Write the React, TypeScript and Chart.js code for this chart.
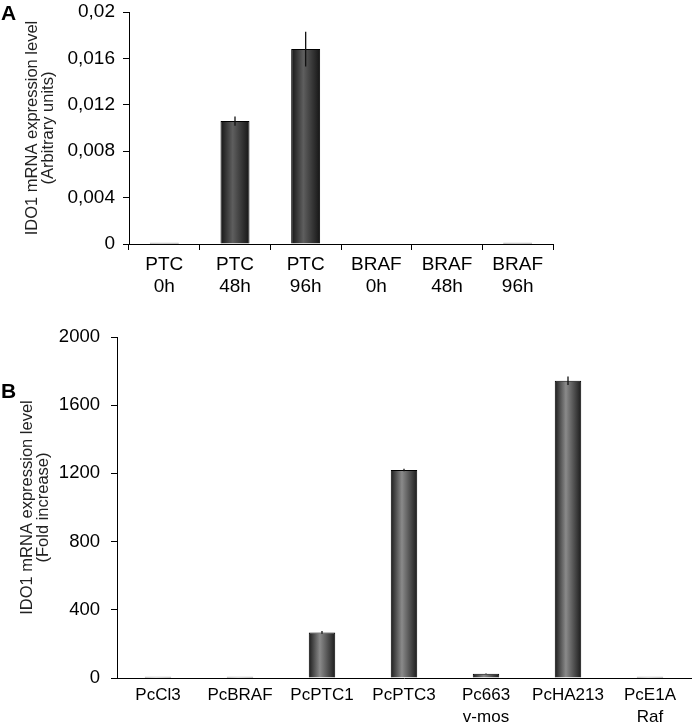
import React, { useEffect, useRef } from 'react';
import { Chart, registerables } from 'chart.js';
Chart.register(...registerables);

const FONT = '"Liberation Sans", Arial, Helvetica, sans-serif';

// Panel A
const aCategories = [['PTC', '0h'], ['PTC', '48h'], ['PTC', '96h'], ['BRAF', '0h'], ['BRAF', '48h'], ['BRAF', '96h']];
const aValues = [0.0001, 0.0106, 0.0168, 0, 0, 0.0001];
const aErrors = [0, 0.0004, 0.0015, 0, 0, 0];
const aYTicks = [0, 0.004, 0.008, 0.012, 0.016, 0.02];
const aYTickLabels = ['0', '0,004', '0,008', '0,012', '0,016', '0,02'];
const aTitle = ['IDO1 mRNA expression level', '(Arbitrary units)'];

// Panel B
const bCategories = ['PcCl3', 'PcBRAF', 'PcPTC1', 'PcPTC3', ['Pc663', 'v-mos'], 'PcHA213', ['PcE1A', 'Raf']];
const bValues = [8, 8, 267, 1220, 25, 1743, 8];
const bErrors = [0, 0, 8, 8, 2, 25, 0];
const bYTicks = [0, 400, 800, 1200, 1600, 2000];
const bYTickLabels = ['0', '400', '800', '1200', '1600', '2000'];
const bTitle = ['IDO1 mRNA expression level', '(Fold increase)'];

const errorBarPlugin = {
  id: 'errorBars',
  afterDatasetsDraw(chart: any, _args: any, opts: any) {
    const errs: number[] = opts.errors || [];
    const meta = chart.getDatasetMeta(0);
    const ys = chart.scales.y;
    const vals = chart.data.datasets[0].data as number[];
    const ctx = chart.ctx;
    ctx.save();
    ctx.strokeStyle = opts.color || '#000';
    ctx.lineWidth = opts.width || 1.2;
    meta.data.forEach((el: any, i: number) => {
      const e = errs[i];
      if (!e) return;
      const top = ys.getPixelForValue(vals[i] + e);
      const bot = ys.getPixelForValue(vals[i] - e);
      ctx.beginPath();
      ctx.moveTo(el.x, top);
      ctx.lineTo(el.x, bot);
      ctx.stroke();
    });
    ctx.restore();
  },
};

type P = {
  labels: any[];
  values: number[];
  errors: number[];
  yTicks: number[];
  yTickLabels: string[];
  title: string[];
  width: number;
  height: number;
  yWidth: number;
  xHeight: number;
  padTop: number;
  padRight: number;
  barPct: number;
  centerColor: string;
  edgeColor: string;
  tickFont: number;
  xFont: number;
  xLineHeight: number;
  xTicks: boolean;
  xPad: number;
  yPad: number;
  titlePad: number;
};

function makeConfig(p: P): any {
  return {
    type: 'bar',
    data: {
      labels: p.labels,
      datasets: [
        {
          data: p.values,
          borderColor: '#000',
          borderWidth: 1,
          categoryPercentage: 1,
          barPercentage: p.barPct,
          backgroundColor: (c: any) => {
            const chart = c.chart;
            const xs = chart.scales && chart.scales.x;
            if (!xs || c.dataIndex === undefined || !isFinite(xs.width) || xs.width <= 0) return p.centerColor;
            const cx = xs.getPixelForValue(c.dataIndex);
            const w = (xs.width / p.labels.length) * p.barPct;
            if (!isFinite(cx) || !isFinite(w)) return p.centerColor;
            const g = chart.ctx.createLinearGradient(cx - w / 2, 0, cx + w / 2, 0);
            g.addColorStop(0, p.edgeColor);
            g.addColorStop(0.42, p.centerColor);
            g.addColorStop(1, p.edgeColor);
            return g;
          },
        },
      ],
    },
    options: {
      responsive: false,
      animation: false,
      events: [],
      layout: { padding: { top: p.padTop, right: p.padRight, left: 0, bottom: 0 } },
      plugins: {
        legend: { display: false },
        tooltip: { enabled: false },
        errorBars: { errors: p.errors, color: '#111', width: 1.3 },
      },
      scales: {
        x: {
          offset: true,
          grid: {
            display: p.xTicks,
            drawOnChartArea: false,
            drawTicks: p.xTicks,
            tickLength: 6,
            color: '#000',
            offset: true,
          },
          border: { display: true, color: '#000', width: 1 },
          ticks: {
            color: '#000',
            padding: p.xPad,
            maxRotation: 0,
            autoSkip: false,
            font: { family: FONT, size: p.xFont, lineHeight: p.xLineHeight },
          },
          afterFit: (s: any) => {
            s.height = p.xHeight;
            s.paddingLeft = 0;
            s.paddingRight = 0;
          },
        },
        y: {
          min: p.yTicks[0],
          max: p.yTicks[p.yTicks.length - 1],
          grid: { display: true, drawOnChartArea: false, drawTicks: true, tickLength: 6, color: '#000' },
          border: { display: true, color: '#000', width: 1 },
          afterBuildTicks: (s: any) => {
            s.ticks = p.yTicks.map((v) => ({ value: v }));
          },
          ticks: {
            color: '#000',
            padding: p.yPad,
            font: { family: FONT, size: p.tickFont },
            callback: (_v: any, i: number) => p.yTickLabels[i],
          },
          title: {
            display: true,
            text: p.title,
            color: '#222',
            padding: { top: p.titlePad, bottom: 0 },
            font: { family: FONT, size: 16.5, lineHeight: 1 },
          },
          afterFit: (s: any) => {
            s.width = p.yWidth;
            s.paddingTop = 0;
            s.paddingBottom = 0;
          },
        },
      },
    },
    plugins: [errorBarPlugin],
  };
}

function BarPanel({ p, top }: { p: P; top: number }) {
  const ref = useRef<HTMLCanvasElement>(null);
  useEffect(() => {
    if (!ref.current) return;
    const chart = new Chart(ref.current, makeConfig(p));
    return () => chart.destroy();
  }, []);
  return (
    <canvas
      ref={ref}
      width={p.width}
      height={p.height}
      style={{ position: 'absolute', left: 0, top, width: p.width, height: p.height }}
    />
  );
}

const panelA: P = {
  labels: aCategories,
  values: aValues,
  errors: aErrors,
  yTicks: aYTicks,
  yTickLabels: aYTickLabels,
  title: aTitle,
  width: 693,
  height: 310,
  yWidth: 129,
  xHeight: 66,
  padTop: 12,
  padRight: 140,
  barPct: 0.41,
  centerColor: '#5e5e5e',
  edgeColor: '#151515',
  tickFont: 19,
  xFont: 19,
  xLineHeight: 1.16,
  xTicks: true,
  xPad: 4,
  yPad: 8,
  titlePad: 24,
};

const panelB: P = {
  labels: bCategories,
  values: bValues,
  errors: bErrors,
  yTicks: bYTicks,
  yTickLabels: bYTickLabels,
  title: bTitle,
  width: 693,
  height: 405,
  yWidth: 117,
  xHeight: 47,
  padTop: 17,
  padRight: 2,
  barPct: 0.323,
  centerColor: '#8a8a8a',
  edgeColor: '#1c1c1c',
  tickFont: 18.5,
  xFont: 17,
  xLineHeight: 1.3,
  xTicks: false,
  xPad: 6,
  yPad: 11,
  titlePad: 19,
};

export default function App() {
  const letter: React.CSSProperties = {
    position: 'absolute',
    fontFamily: FONT,
    fontWeight: 'bold',
    fontSize: 21,
    lineHeight: '21px',
    color: '#000',
  };
  return (
    <div style={{ position: 'absolute', left: 0, top: 0, width: 693, height: 725, background: '#fff', overflow: 'hidden' }}>
      <BarPanel p={panelA} top={0} />
      <BarPanel p={panelB} top={320} />
      <div style={{ ...letter, left: 1, top: 2 }}>A</div>
      <div style={{ ...letter, left: 1, top: 380 }}>B</div>
    </div>
  );
}
